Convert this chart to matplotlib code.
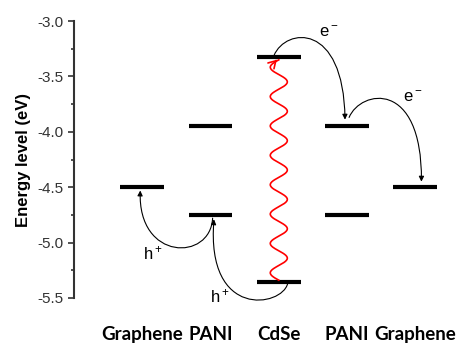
import numpy as np
import matplotlib
matplotlib.use('Agg')
import matplotlib.pyplot as plt
from matplotlib.patches import FancyArrowPatch
from matplotlib.path import Path

### DATA ###
materials = ['Graphene', 'PANI', 'CdSe', 'PANI', 'Graphene']
x_pos = [1, 2, 3, 4, 5]
# energy levels (eV) for each column
levels = [[-4.5], [-3.95, -4.75], [-3.32, -5.36], [-3.95, -4.75], [-4.5]]
yticks = [-3.0, -3.5, -4.0, -4.5, -5.0, -5.5]

plt.rcParams['font.family'] = ['Liberation Sans', 'DejaVu Sans']
plt.rcParams['mathtext.default'] = 'regular'

fig = plt.figure(figsize=(4.66, 3.46), dpi=100)
ax = fig.add_axes([0.159, 0.139, 0.82, 0.80])

# level bars
for x, lv in zip(x_pos, levels):
    for y in lv:
        ax.plot([x - 0.32, x + 0.32], [y, y], color='black', lw=3, solid_capstyle='butt')


def curve(p0, p1, p2, p3):
    path = Path([p0, p1, p2, p3], [Path.MOVETO, Path.CURVE4, Path.CURVE4, Path.CURVE4])
    arr = FancyArrowPatch(path=path, arrowstyle='-|>,head_length=3,head_width=1.5',
                          color='black', lw=0.8, shrinkA=0, shrinkB=0, clip_on=False)
    ax.add_patch(arr)


# holes
curve((2.03, -4.78), (2.0, -5.17), (0.93, -5.17), (0.97, -4.53))
curve((3.13, -5.37), (3.05, -5.58), (1.93, -5.7), (2.05, -4.79))
# electrons
curve((2.93, -3.31), (3.1, -3.06), (3.95, -3.0), (3.97, -3.89))
curve((4.03, -3.87), (4.2, -3.62), (5.1, -3.52), (5.09, -4.45))

ax.text(1.15, -5.10, 'h$^+$', fontsize=12, ha='center', va='center')
ax.text(2.14, -5.49, 'h$^+$', fontsize=12, ha='center', va='center')
ax.text(3.74, -3.10, 'e$^-$', fontsize=12, ha='center', va='center')
ax.text(4.96, -3.686, 'e$^-$', fontsize=12, ha='center', va='center')

# photon (decorative wavy arrow)
yy = np.linspace(levels[2][1] + 0.02, levels[2][0] - 0.03, 400)
xx = 3 - 0.125 * np.sin((yy - yy[0]) / (yy[-1] - yy[0]) * 2 * np.pi * 7.5)
ax.plot(xx, yy, color='red', lw=1.2)
ax.annotate('', xy=(xx[-1], yy[-1] + 0.02), xytext=(xx[-6], yy[-6]),
            arrowprops=dict(arrowstyle='->,head_length=0.5,head_width=0.3', color='red', lw=1.2))

ax.set_xlim(0, 5.6)
ax.set_ylim(-5.5, -3.0)
ax.set_yticks(yticks)
ax.set_yticks(np.arange(-5.5, -2.99, 0.25), minor=True)
ax.set_yticklabels(['%.1f' % v for v in yticks])
ax.set_xticks(x_pos)
ax.set_xticklabels(materials, fontsize=13.5, fontweight='bold', family=['Lato', 'DejaVu Sans'])
ax.tick_params(axis='x', length=0, pad=20)
ax.tick_params(axis='y', which='major', length=4, width=1.2, labelsize=11, direction='out', colors='#333333')
ax.tick_params(axis='y', which='minor', length=2.5, width=1.2, direction='out', colors='#333333')
for s in ['top', 'right', 'bottom']:
    ax.spines[s].set_visible(False)
ax.spines['left'].set_linewidth(1.5)
ax.spines['left'].set_color('#333333')
ax.set_ylabel('Energy level (eV)', fontsize=12, fontweight='bold', labelpad=5)

fig.savefig('out.png', dpi=100)
